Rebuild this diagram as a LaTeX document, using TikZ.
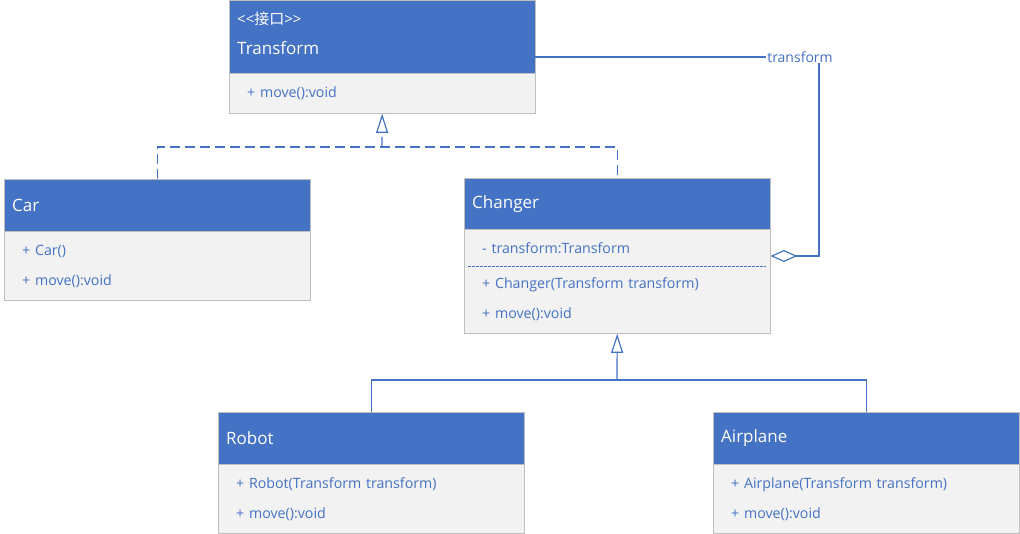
\documentclass[tikz,border=0pt]{standalone}
\usepackage{fontspec}
\setmainfont{Open Sans}
\newfontfamily\cjk{Noto Sans CJK SC}
\usepackage{tikz}
\usetikzlibrary{arrows.meta,positioning,calc}
\definecolor{umlblue}{HTML}{4472C4}
\definecolor{umlgray}{HTML}{F2F2F2}
\definecolor{umlborder}{HTML}{BFBFBF}

\begin{document}
\begin{tikzpicture}[
  x=1pt, y=-1pt,
  head/.style={draw=umlborder, fill=umlblue, text=white, anchor=north west, align=left,
    inner xsep=8pt, text width=290pt, font=\fontsize{17}{30}\selectfont},
  body/.style={draw=umlborder, fill=umlgray, text=umlblue, anchor=north west, align=left,
    inner xsep=18pt, text width=270pt, font=\fontsize{14.2}{30}\selectfont},
  link/.style={draw=umlblue, line width=1.2pt},
  realize/.style={link, dash pattern=on 10pt off 5pt},
  inherit/.style={-{Triangle[open, length=19pt, width=12pt, fill=white]}},
  sep/.style={draw=umlblue, line width=0.8pt, dash pattern=on 2.5pt off 1.5pt}
]
\useasboundingbox (0,0) rectangle (1020,534);

% interface
\node[head, minimum height=73pt, text depth=36pt] (transformHead) at (229,0)
  {{\fontsize{15}{30}\selectfont <{}<{}{\cjk 接口}>{}>}\\Transform};
\node[body, minimum height=40pt] (transformBody) at (transformHead.south west) {+ move():void};

% classes
\node[head, minimum height=52pt] (carHead) at (4,179) {Car};
\node[body, minimum height=69pt] (carBody) at (carHead.south west) {+ Car()\\+ move():void};

\node[head, minimum height=51pt] (changerHead) at (464,178) {Changer};
\node[body, minimum height=104pt] (changerBody) at (changerHead.south west)
  {- transform:Transform\\[5pt]+ Changer(Transform transform)\\+ move():void};
\draw[sep] ($(changerBody.north west)+(4,37)$) -- ($(changerBody.north east)+(-4,37)$);

\node[head, minimum height=52pt] (robotHead) at (218,412) {Robot};
\node[body, minimum height=69pt] (robotBody) at (robotHead.south west)
  {+ Robot(Transform transform)\\+ move():void};

\node[head, minimum height=52pt] (airplaneHead) at (713,412) {Airplane};
\node[body, minimum height=69pt] (airplaneBody) at (airplaneHead.south west)
  {+ Airplane(Transform transform)\\+ move():void};

% realization
\coordinate (realBus) at (382,147);
\draw[realize] (carHead.north) |- (realBus) -| (changerHead.north);
\draw[realize, inherit] (realBus) -- (transformBody.south);

% inheritance
\coordinate (inhBus) at (617,380);
\draw[link] (robotHead.north) |- (inhBus) -| (airplaneHead.north);
\draw[link, inherit] (inhBus) -- (changerBody.south);

% aggregation
\coordinate (aggTurn) at (819,57);
\coordinate (aggEnd) at (819,256);
\draw[link, {Diamond[open, length=27pt, width=12pt, fill=white]}-]
  (changerBody.east |- aggEnd) -- (aggEnd) -- (aggTurn) -- (transformHead.east |- aggTurn);
\node[fill=white, text=umlblue, inner sep=1pt, font=\fontsize{14}{16}\selectfont] (aggLabel) at (800,57) {transform};
\end{tikzpicture}
\end{document}
